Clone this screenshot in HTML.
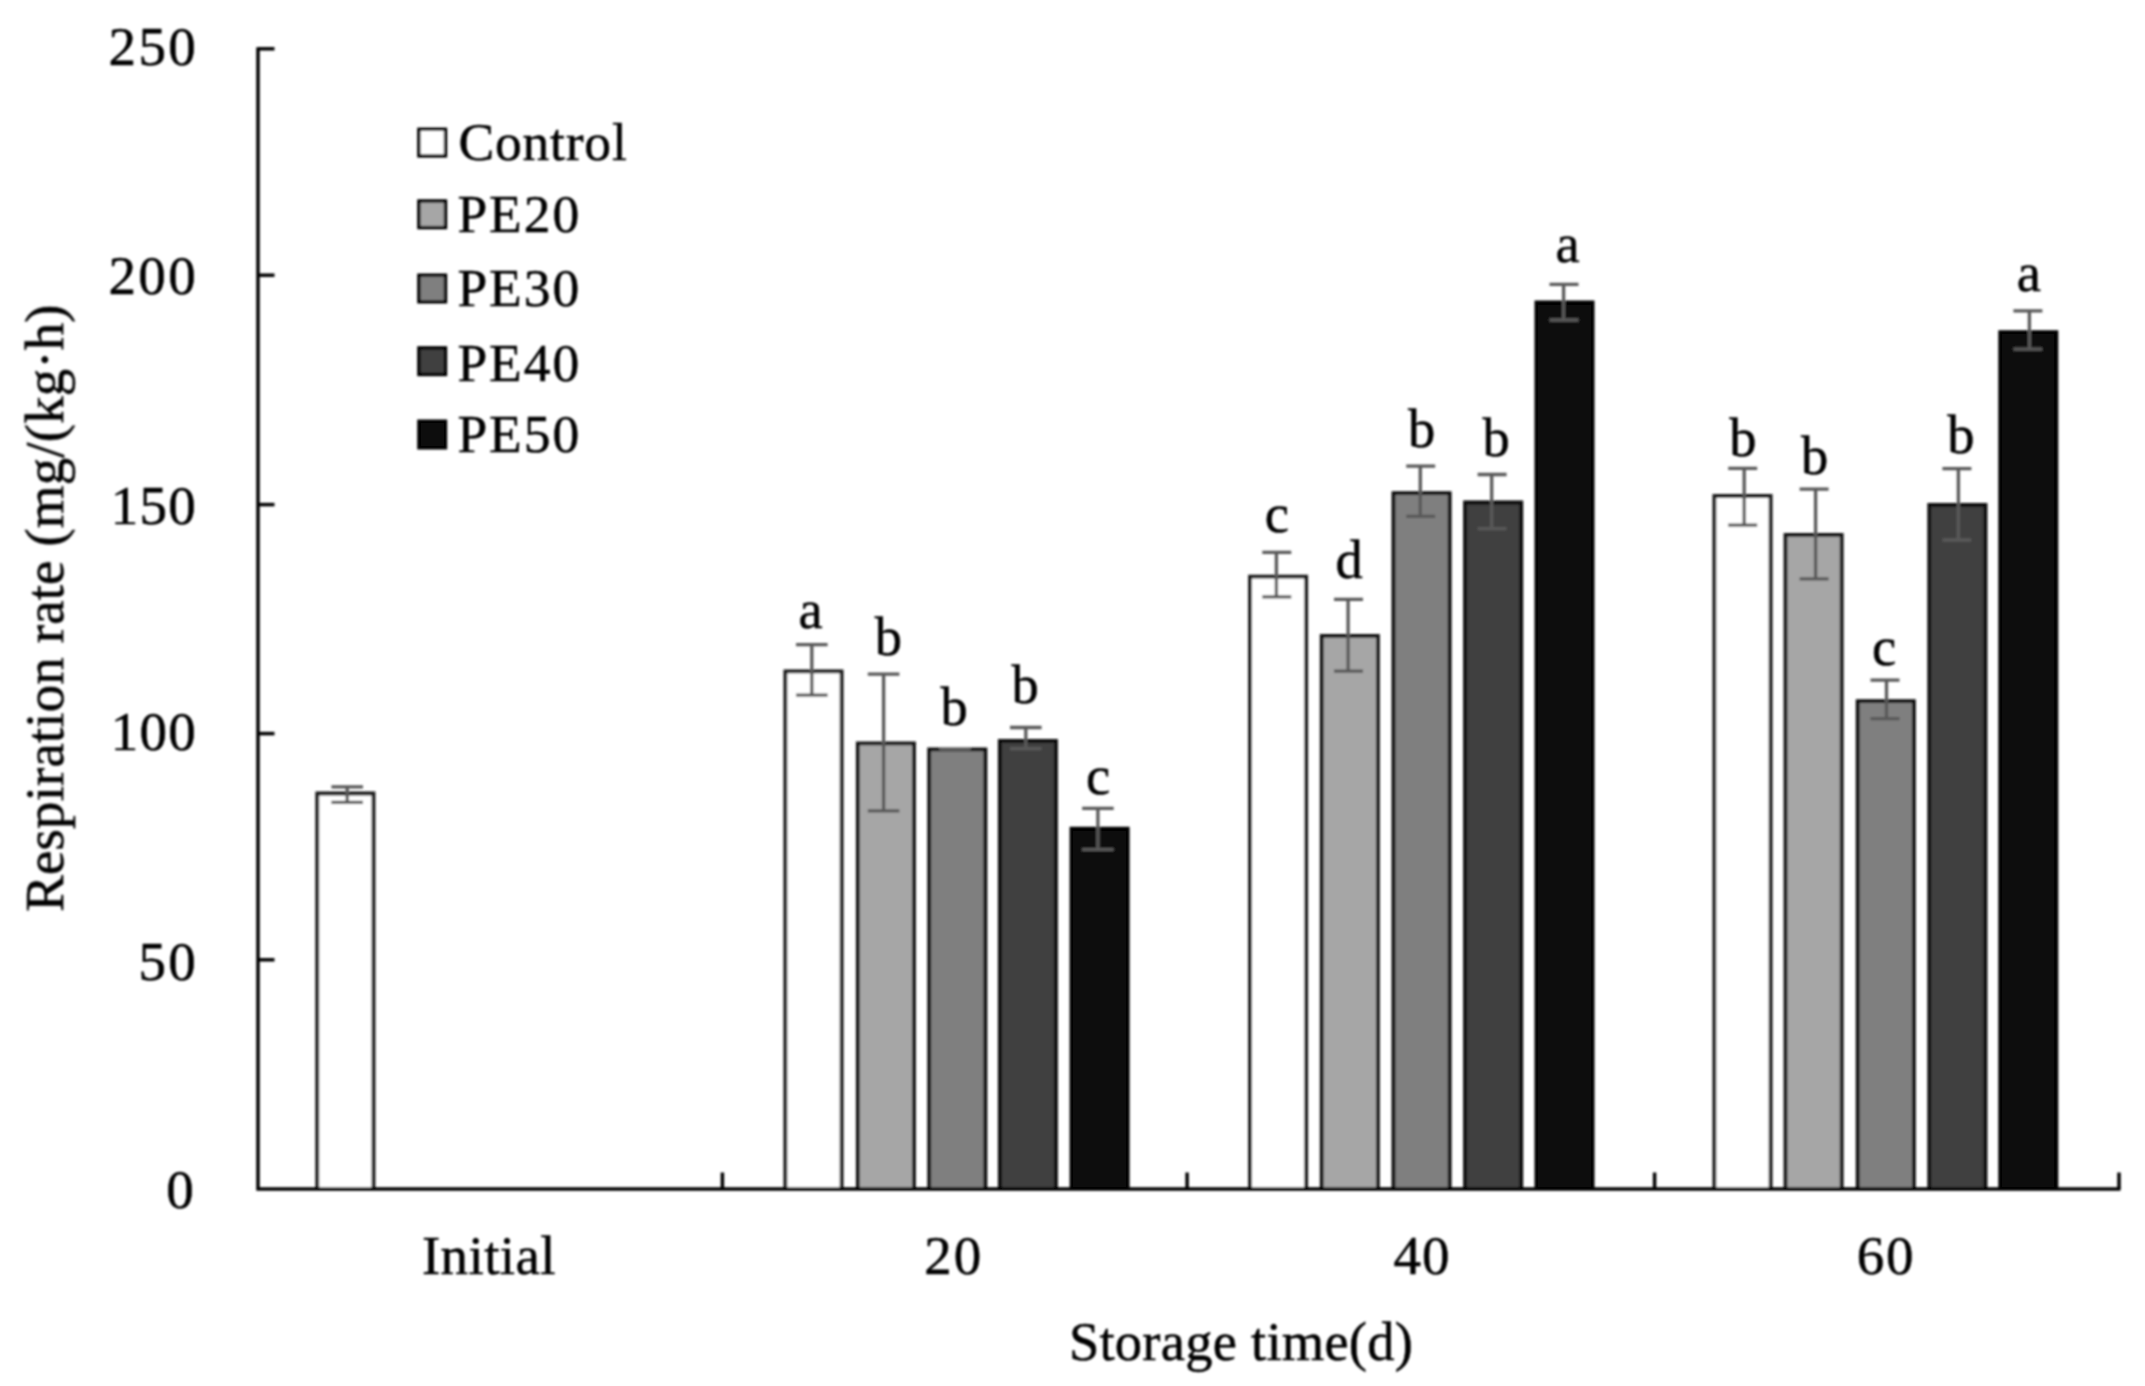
<!DOCTYPE html>
<html><head><meta charset="utf-8"><title>Respiration rate</title>
<style>
html,body{margin:0;padding:0;background:#fff;}
svg{display:block;}
text{font-family:"Liberation Serif","Times New Roman",serif;fill:#000;stroke:#000;stroke-width:0.5px;white-space:pre;}
</style></head><body>
<svg width="2145" height="1386" viewBox="0 0 2145 1386">
<defs><filter id="soft" x="0" y="0" width="2145" height="1386" filterUnits="userSpaceOnUse"><feGaussianBlur stdDeviation="1.0"/></filter></defs>
<rect width="2145" height="1386" fill="#fff"/>
<g filter="url(#soft)">
<path d="M317.3 1189.0V793.5H373.5V1189.0" fill="#ffffff" stroke="#1a1a1a" stroke-width="3.8" stroke-linejoin="miter"/>
<path d="M785.4 1189.0V671.4H841.6V1189.0" fill="#ffffff" stroke="#1a1a1a" stroke-width="3.8" stroke-linejoin="miter"/>
<path d="M857.8 1189.0V743.3H914.0V1189.0" fill="#a6a6a6" stroke="#141414" stroke-width="3.8" stroke-linejoin="miter"/>
<path d="M929.2 1189.0V749.3H985.4V1189.0" fill="#7f7f7f" stroke="#101010" stroke-width="3.8" stroke-linejoin="miter"/>
<path d="M999.8 1189.0V740.8H1056.0V1189.0" fill="#404040" stroke="#080808" stroke-width="3.8" stroke-linejoin="miter"/>
<path d="M1071.5 1189.0V828.7H1127.7V1189.0" fill="#0d0d0d" stroke="#000000" stroke-width="3.8" stroke-linejoin="miter"/>
<path d="M1250.0 1189.0V576.6H1306.2V1189.0" fill="#ffffff" stroke="#1a1a1a" stroke-width="3.8" stroke-linejoin="miter"/>
<path d="M1321.7 1189.0V635.8H1377.9V1189.0" fill="#a6a6a6" stroke="#141414" stroke-width="3.8" stroke-linejoin="miter"/>
<path d="M1393.5 1189.0V493.1H1449.7V1189.0" fill="#7f7f7f" stroke="#101010" stroke-width="3.8" stroke-linejoin="miter"/>
<path d="M1465.1 1189.0V502.5H1521.3V1189.0" fill="#404040" stroke="#080808" stroke-width="3.8" stroke-linejoin="miter"/>
<path d="M1536.4 1189.0V302.5H1592.6V1189.0" fill="#0d0d0d" stroke="#000000" stroke-width="3.8" stroke-linejoin="miter"/>
<path d="M1714.4 1189.0V496.0H1770.6V1189.0" fill="#ffffff" stroke="#1a1a1a" stroke-width="3.8" stroke-linejoin="miter"/>
<path d="M1785.5 1189.0V534.9H1841.7V1189.0" fill="#a6a6a6" stroke="#141414" stroke-width="3.8" stroke-linejoin="miter"/>
<path d="M1857.7 1189.0V701.2H1913.9V1189.0" fill="#7f7f7f" stroke="#101010" stroke-width="3.8" stroke-linejoin="miter"/>
<path d="M1929.3 1189.0V504.8H1985.5V1189.0" fill="#404040" stroke="#080808" stroke-width="3.8" stroke-linejoin="miter"/>
<path d="M2000.2 1189.0V332.1H2056.4V1189.0" fill="#0d0d0d" stroke="#000000" stroke-width="3.8" stroke-linejoin="miter"/>
<path d="M331.4 786.9H363.0M331.4 802.3H363.0M347.2 786.9V802.3" stroke="#595959" stroke-width="3.3" fill="none"/>
<path d="M796.0 644.7H827.6M796.0 695.2H827.6M811.8 644.7V695.2" stroke="#595959" stroke-width="3.3" fill="none"/>
<path d="M867.8 674.2H899.4M867.8 810.8H899.4M883.6 674.2V810.8" stroke="#595959" stroke-width="3.3" fill="none"/>
<path d="M939.2 749.6H970.8M939.2 750.4H970.8M955.0 749.6V750.4" stroke="#595959" stroke-width="3.3" fill="none"/>
<path d="M1010.0 727.5H1041.6M1010.0 748.7H1041.6M1025.8 727.5V748.7" stroke="#595959" stroke-width="3.3" fill="none"/>
<path d="M1082.1 808.3H1113.7M1082.1 849.7H1113.7M1097.9 808.3V849.7" stroke="#595959" stroke-width="3.3" fill="none"/>
<path d="M1262.3 552.3H1291.3M1262.3 596.8H1291.3M1276.4 552.3V596.8" stroke="#595959" stroke-width="3.3" fill="none"/>
<path d="M1334.0 599.4H1363.0M1334.0 671.1H1363.0M1348.1 599.4V671.1" stroke="#595959" stroke-width="3.3" fill="none"/>
<path d="M1406.2 466.1H1435.2M1406.2 516.4H1435.2M1420.3 466.1V516.4" stroke="#595959" stroke-width="3.3" fill="none"/>
<path d="M1477.6 474.5H1506.6M1477.6 528.6H1506.6M1491.7 474.5V528.6" stroke="#595959" stroke-width="3.3" fill="none"/>
<path d="M1549.5 284.4H1578.5M1549.5 320.0H1578.5M1563.6 284.4V320.0" stroke="#595959" stroke-width="3.3" fill="none"/>
<path d="M1728.2 468.4H1757.2M1728.2 525.1H1757.2M1744.2 468.4V525.1" stroke="#595959" stroke-width="3.3" fill="none"/>
<path d="M1799.6 489.2H1828.6M1799.6 578.8H1828.6M1815.6 489.2V578.8" stroke="#595959" stroke-width="3.3" fill="none"/>
<path d="M1870.5 680.1H1899.5M1870.5 718.6H1899.5M1886.5 680.1V718.6" stroke="#595959" stroke-width="3.3" fill="none"/>
<path d="M1942.4 468.6H1971.4M1942.4 540.0H1971.4M1958.4 468.6V540.0" stroke="#595959" stroke-width="3.3" fill="none"/>
<path d="M2013.4 310.9H2042.4M2013.4 349.1H2042.4M2029.4 310.9V349.1" stroke="#595959" stroke-width="3.3" fill="none"/>
<path d="M258.0 47.2V1189.0H2120.5" stroke="#000" stroke-width="3.5" fill="none" stroke-linejoin="miter"/>
<path d="M258.0 48.8H274.5" stroke="#000" stroke-width="3.5"/>
<path d="M258.0 275.2H274.5" stroke="#000" stroke-width="3.5"/>
<path d="M258.0 504.6H274.5" stroke="#000" stroke-width="3.5"/>
<path d="M258.0 733.6H274.5" stroke="#000" stroke-width="3.5"/>
<path d="M258.0 959.8H274.5" stroke="#000" stroke-width="3.5"/>
<path d="M722.4 1189.0V1172.5" stroke="#000" stroke-width="3.5"/>
<path d="M1187.1 1189.0V1172.5" stroke="#000" stroke-width="3.5"/>
<path d="M1654.6 1189.0V1172.5" stroke="#000" stroke-width="3.5"/>
<path d="M2119.0 1189.0V1172.5" stroke="#000" stroke-width="3.5"/>
<rect x="418.9" y="129.3" width="26.6" height="26.6" fill="#ffffff" stroke="#000" stroke-width="3.4"/>
<rect x="418.9" y="201.0" width="26.6" height="26.6" fill="#a6a6a6" stroke="#000" stroke-width="3.4"/>
<rect x="418.9" y="275.2" width="26.6" height="26.6" fill="#7f7f7f" stroke="#000" stroke-width="3.4"/>
<rect x="418.9" y="347.9" width="26.6" height="26.6" fill="#404040" stroke="#000" stroke-width="3.4"/>
<rect x="418.9" y="421.2" width="26.6" height="26.6" fill="#0d0d0d" stroke="#000" stroke-width="3.4"/>
<text x="458.5" y="160.1" font-size="53.5" letter-spacing="0.80">Control</text>
<text x="457.4" y="231.8" font-size="53.5" letter-spacing="1.98">PE20</text>
<text x="457.4" y="306.3" font-size="53.5" letter-spacing="1.98">PE30</text>
<text x="457.4" y="381.0" font-size="53.5" letter-spacing="1.98">PE40</text>
<text x="457.4" y="452.4" font-size="53.5" letter-spacing="1.98">PE50</text>
<text x="108.6" y="65.2" font-size="55" letter-spacing="2.31">250</text>
<text x="108.4" y="293.9" font-size="55" letter-spacing="2.41">200</text>
<text x="110.7" y="523.9" font-size="55" letter-spacing="1.26">150</text>
<text x="110.7" y="750.0" font-size="55" letter-spacing="1.26">100</text>
<text x="138.5" y="979.9" font-size="55" letter-spacing="2.19">50</text>
<text x="166.2" y="1208.2" font-size="55">0</text>
<text x="421.9" y="1274.1" font-size="55" letter-spacing="0.39">Initial</text>
<text x="924.2" y="1273.6" font-size="55" letter-spacing="2.01">20</text>
<text x="1393.5" y="1273.6" font-size="55" letter-spacing="0.97">40</text>
<text x="1856.8" y="1273.6" font-size="55" letter-spacing="1.66">60</text>
<text x="1068.9" y="1359.6" font-size="54.5" letter-spacing="0.25">Storage time(d)</text>
<text transform="translate(63.1 911.8) rotate(-90)" x="0" y="0" font-size="55" letter-spacing="0.10">Respiration rate (mg/(kg·h)</text>
<text x="798.5" y="628.1" font-size="54.5">a</text>
<text x="874.7" y="655.4" font-size="54.5">b</text>
<text x="940.4" y="724.6" font-size="54.5">b</text>
<text x="1011.6" y="703.4" font-size="54.5">b</text>
<text x="1086.1" y="793.7" font-size="54.5">c</text>
<text x="1264.7" y="532.1" font-size="54.5">c</text>
<text x="1335.5" y="578.2" font-size="54.5">d</text>
<text x="1408.0" y="447.1" font-size="54.5">b</text>
<text x="1482.4" y="455.6" font-size="54.5">b</text>
<text x="1555.4" y="261.8" font-size="54.5">a</text>
<text x="1729.3" y="456.0" font-size="54.5">b</text>
<text x="1801.1" y="474.2" font-size="54.5">b</text>
<text x="1872.1" y="664.8" font-size="54.5">c</text>
<text x="1947.2" y="452.8" font-size="54.5">b</text>
<text x="2016.8" y="290.6" font-size="54.5">a</text>
</g>
</svg>
</body></html>
